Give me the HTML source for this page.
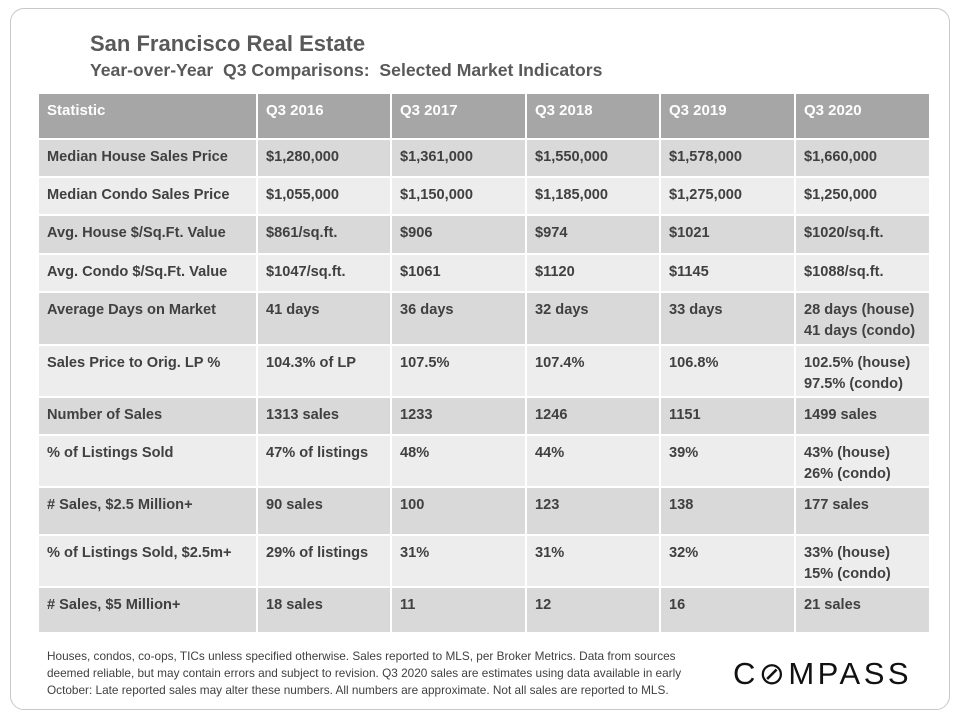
<!DOCTYPE html>
<html><head><meta charset="utf-8"><style>
body{margin:0;width:960px;height:720px;background:#fff;font-family:"Liberation Sans",sans-serif;position:relative;overflow:hidden}
.card{position:absolute;left:10px;top:8px;width:938px;height:700px;border:1px solid #c8c8c8;border-radius:14px}
h1{position:absolute;left:90px;top:31px;margin:0;font-size:22px;color:#595959;font-weight:bold}
h2{position:absolute;left:90px;top:60px;margin:0;font-size:17.6px;color:#595959;font-weight:bold}
table{position:absolute;left:37px;top:92px;border-collapse:collapse;table-layout:fixed}
td,th{border:2px solid #fff;vertical-align:top;text-align:left;padding:7px 8px 0 8px;font-size:14.6px;font-weight:bold;color:#404040;line-height:21px}
th{background:#a6a6a6;color:#fff;height:38px;font-size:15px;padding-top:6px}
tr.o td{background:#d9d9d9}tr.e td{background:#ededed}
.foot{position:absolute;left:47px;top:648px;font-size:11.8px;line-height:17px;color:#404040;white-space:nowrap}
.foot span{display:block}
.logo{position:absolute;left:733px;top:656px;font-size:31px;letter-spacing:3.5px;color:#111}
</style></head><body>
<div class="card"></div>
<h1>San Francisco Real Estate</h1>
<h2>Year-over-Year &nbsp;Q3 Comparisons: &nbsp;Selected Market Indicators</h2>
<table>
<colgroup><col style="width:219px"><col style="width:134px"><col style="width:135px"><col style="width:134px"><col style="width:135px"><col style="width:135px"></colgroup>
<tr><th>Statistic</th><th>Q3 2016</th><th>Q3 2017</th><th>Q3 2018</th><th>Q3 2019</th><th>Q3 2020</th></tr>
<tr class="o" style="height:38px"><td>Median House Sales Price</td><td>$1,280,000</td><td>$1,361,000</td><td>$1,550,000</td><td>$1,578,000</td><td>$1,660,000</td></tr>
<tr class="e" style="height:38px"><td>Median Condo Sales Price</td><td>$1,055,000</td><td>$1,150,000</td><td>$1,185,000</td><td>$1,275,000</td><td>$1,250,000</td></tr>
<tr class="o" style="height:39px"><td>Avg. House $/Sq.Ft. Value</td><td>$861/sq.ft.</td><td>$906</td><td>$974</td><td>$1021</td><td>$1020/sq.ft.</td></tr>
<tr class="e" style="height:38px"><td>Avg. Condo $/Sq.Ft. Value</td><td>$1047/sq.ft.</td><td>$1061</td><td>$1120</td><td>$1145</td><td>$1088/sq.ft.</td></tr>
<tr class="o" style="height:53px"><td>Average Days on Market</td><td>41 days</td><td>36 days</td><td>32 days</td><td>33 days</td><td>28 days (house)<br>41 days (condo)</td></tr>
<tr class="e" style="height:52px"><td>Sales Price to Orig. LP %</td><td>104.3% of LP</td><td>107.5%</td><td>107.4%</td><td>106.8%</td><td>102.5% (house)<br>97.5% (condo)</td></tr>
<tr class="o" style="height:38px"><td>Number of Sales</td><td>1313 sales</td><td>1233</td><td>1246</td><td>1151</td><td>1499 sales</td></tr>
<tr class="e" style="height:52px"><td>% of Listings Sold</td><td>47% of listings</td><td>48%</td><td>44%</td><td>39%</td><td>43% (house)<br>26% (condo)</td></tr>
<tr class="o" style="height:48px"><td># Sales, $2.5 Million+</td><td>90 sales</td><td>100</td><td>123</td><td>138</td><td>177 sales</td></tr>
<tr class="e" style="height:52px"><td>% of Listings Sold, $2.5m+</td><td>29% of listings</td><td>31%</td><td>31%</td><td>32%</td><td>33% (house)<br>15% (condo)</td></tr>
<tr class="o" style="height:46px"><td># Sales, $5 Million+</td><td>18 sales</td><td>11</td><td>12</td><td>16</td><td>21 sales</td></tr>
</table>
<div class="foot"><span>Houses, condos, co-ops, TICs unless specified otherwise. Sales reported to MLS, per Broker Metrics. Data from sources</span><span>deemed reliable, but may contain errors and subject to revision. Q3 2020 sales are estimates using data available in early</span><span>October: Late reported sales may alter these numbers. All numbers are approximate. Not all sales are reported to MLS.</span></div>
<div class="logo">C&#8856;MPASS</div>
</body></html>
